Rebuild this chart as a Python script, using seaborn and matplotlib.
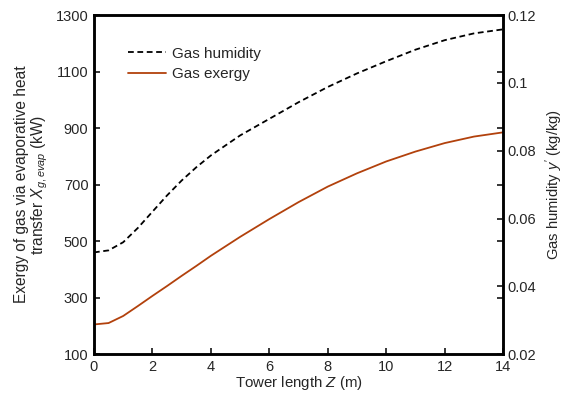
import numpy as np
import pandas as pd
import matplotlib
matplotlib.use('Agg')
import matplotlib.pyplot as plt
import seaborn as sns

# values
tower_z = [0, 0.5, 1, 1.5, 2, 2.5, 3, 3.5, 4, 5, 6, 7, 8, 9, 10, 11, 12, 13, 14]
gas_humidity = [0.0500, 0.0506, 0.0530, 0.0572, 0.0620, 0.0668, 0.0712, 0.0751, 0.0786,
                0.0845, 0.0894, 0.0943, 0.0988, 0.1028, 0.1064, 0.1098, 0.1126, 0.1146, 0.1158]
gas_exergy = [205, 210, 235, 270, 306, 341, 377, 412, 448, 515, 578, 638, 693, 740,
              782, 817, 847, 870, 885]

left_ticks = [100, 300, 500, 700, 900, 1100, 1300]
right_ticks = [0.02, 0.04, 0.06, 0.08, 0.10, 0.12]
right_labels = ['0.02', '0.04', '0.06', '0.08', '0.1', '0.12']
x_ticks = [0, 2, 4, 6, 8, 10, 12, 14]

df = pd.DataFrame({'z': tower_z, 'humidity': gas_humidity, 'exergy': gas_exergy})

sns.set_style('white')
plt.rcParams['font.family'] = ['Liberation Sans', 'DejaVu Sans']
plt.rcParams['mathtext.fontset'] = 'custom'
plt.rcParams['mathtext.it'] = 'Liberation Sans:italic'
plt.rcParams['mathtext.rm'] = 'Liberation Sans'

fig = plt.figure(figsize=(5.66, 3.97), dpi=100)
ax = fig.add_axes([0.166, 0.108, 0.723, 0.854])
ax2 = ax.twinx()

orange = '#B2410C'
sns.lineplot(data=df, x='z', y='exergy', ax=ax, color=orange, lw=1.3, label='Gas exergy', legend=False)
sns.lineplot(data=df, x='z', y='humidity', ax=ax2, color='black', lw=1.3,
             linestyle=(0, (3.2, 2.0)), label='Gas humidity', legend=False)

ax.set_xlim(0, 14)
ax.set_ylim(100, 1300)
ax2.set_ylim(0.02, 0.12)
ax.set_xticks(x_ticks)
ax.set_yticks(left_ticks)
ax2.set_yticks(right_ticks)
ax2.set_yticklabels(right_labels)

ax.tick_params(axis='both', direction='in', length=4, width=1.3, labelsize=10.5, pad=4,
               right=True, left=True, bottom=True)
ax.tick_params(axis='y', labelright=False)
ax2.tick_params(axis='y', direction='in', length=4, width=1.3, labelsize=10.5, pad=3)

for a in (ax, ax2):
    for s in a.spines.values():
        s.set_linewidth(1.8)
        s.set_color('black')

ax.set_xlabel('Tower length $Z$ (m)', fontsize=10.8, labelpad=0)
ax.set_ylabel('Exergy of gas via evaporative heat\ntransfer $X_{g,evap}$ (kW)',
              fontsize=11.2, labelpad=4, linespacing=1.05)
ax2.set_ylabel("Gas humidity $y'$ (kg/kg)", fontsize=10.6, labelpad=5)

h1, l1 = ax2.get_legend_handles_labels()
h2, l2 = ax.get_legend_handles_labels()
ax.legend(h1 + h2, l1 + l2, loc='upper left', bbox_to_anchor=(0.068, 0.925),
          frameon=False, fontsize=11, handlelength=2.5, handletextpad=0.4,
          labelspacing=0.45, borderaxespad=0)

fig.savefig('out.png', dpi=100)
